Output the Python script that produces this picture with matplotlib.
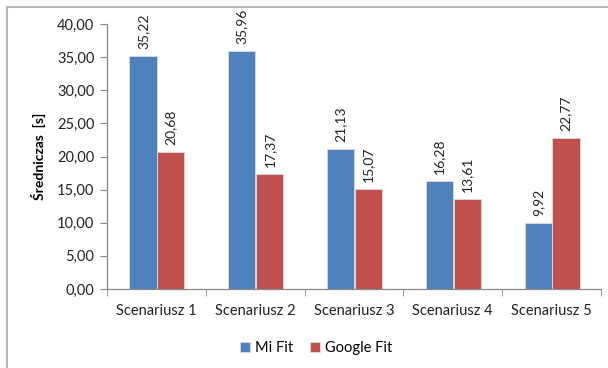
import numpy as np
import matplotlib
matplotlib.use("Agg")
import matplotlib.pyplot as plt
from matplotlib.patches import Rectangle

plt.rcParams['font.family'] = ['Lato', 'DejaVu Sans']

categories = ["Scenariusz 1", "Scenariusz 2", "Scenariusz 3", "Scenariusz 4", "Scenariusz 5"]
mi_fit = [35.22, 35.96, 21.13, 16.28, 9.92]
google_fit = [20.68, 17.37, 15.07, 13.61, 22.77]
yticks = [0, 5, 10, 15, 20, 25, 30, 35, 40]

def fmt(v):
    return ("%.2f" % v).replace(".", ",")

fig = plt.figure(figsize=(6.08, 3.68), dpi=100)
ax = fig.add_axes([107/608, 1 - 289/368, (601 - 107)/608, (289 - 24)/368])

x = np.arange(len(categories))
w = 0.275
b1 = ax.bar(x - 0.135, mi_fit, w, color="#4F81BD", edgecolor="#dcdcdc", linewidth=0.6, label="Mi Fit", zorder=2)
b2 = ax.bar(x + 0.145, google_fit, w, color="#C0504D", edgecolor="#dcdcdc", linewidth=0.6, label="Google Fit", zorder=2)

for bars, vals in ((b1, mi_fit), (b2, google_fit)):
    for r, v in zip(bars, vals):
        ax.annotate(fmt(v), (r.get_x() + r.get_width()/2, v), xytext=(0, 5),
                    textcoords="offset points", rotation=90, ha="center", va="bottom",
                    fontsize=10, color="#222222")

ax.set_xlim(-0.5, len(categories) - 0.5)
ax.set_ylim(0, 40)
ax.set_yticks(yticks)
ax.set_yticklabels([fmt(v) for v in yticks], fontsize=10.5, color="#222222")
ax.set_xticks(x)
ax.set_xticklabels(categories, fontsize=10.5, color="#222222")
ax.set_xticks(np.arange(-0.5, len(categories)), minor=True)
ax.tick_params(axis="x", which="major", length=0, pad=11)
ax.tick_params(axis="x", which="minor", length=5, color="#888888")
ax.tick_params(axis="y", length=5, color="#888888", pad=4)

for s in ("top", "right"):
    ax.spines[s].set_visible(False)
for s in ("left", "bottom"):
    ax.spines[s].set_color("#888888")
    ax.spines[s].set_linewidth(0.9)

ax.set_ylabel("Średniczas  [s]", fontsize=10, fontweight="bold", labelpad=8)

fig.legend(handles=[b1, b2], loc="center", bbox_to_anchor=(316/608, 1 - 348/368), ncol=2,
           frameon=False, fontsize=10.5, handlelength=0.7, handleheight=0.7,
           handletextpad=0.3, columnspacing=1.2)

fig.patches.append(Rectangle((7/608, -0.1), 1.2, (1 - 7/368) + 0.1, transform=fig.transFigure,
                             fill=False, edgecolor="#b8b8b8", linewidth=1.5))

fig.savefig("out.png", dpi=100)
